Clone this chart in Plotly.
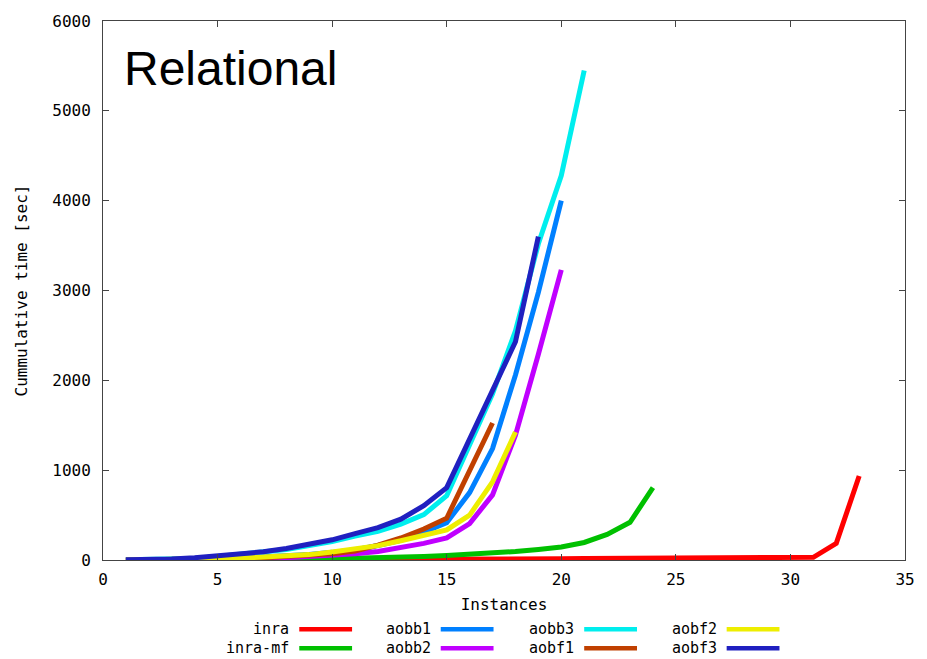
import plotly.graph_objects as go

# ---- data ----
names = ["inra", "inra-mf", "aobb1", "aobb2", "aobb3", "aobf1", "aobf2", "aobf3"]
colors = ["#FF0000", "#00C000", "#0080FF", "#C000FF", "#00EEEE", "#C04000", "#EEEE00", "#2020C0"]

inra = [1, 1, 1, 2, 2, 2, 3, 3, 4, 4, 5, 6, 7, 8, 9, 10, 11, 12, 13, 14,
        16, 17, 18, 19, 20, 21, 22, 24, 26, 28, 30, 185, 935]
inra_mf = [0, 0, 1, 2, 3, 5, 7, 9, 11, 14, 18, 23, 30, 40, 50, 62, 78, 95, 118, 145,
           195, 285, 420, 805]
aobb1 = [1, 2, 4, 8, 14, 22, 32, 45, 62, 85, 115, 162, 220, 310, 415, 750, 1240, 2060, 2980, 4000]
aobb2 = [0, 1, 2, 4, 7, 11, 17, 25, 36, 50, 70, 95, 135, 185, 245, 405, 725, 1390, 2290, 3230]
aobb3 = [2, 4, 8, 18, 38, 60, 85, 118, 160, 205, 265, 320, 400, 505, 715, 1270, 1850, 2550,
         3520, 4280, 5450]
aobf1 = [1, 2, 4, 7, 11, 17, 25, 36, 50, 70, 100, 165, 245, 345, 465, 1000, 1525]
aobf2 = [1, 2, 4, 8, 13, 20, 30, 42, 60, 90, 118, 160, 215, 270, 335, 500, 870, 1425]
aobf3 = [3, 5, 10, 25, 44, 66, 92, 129, 176, 225, 294, 360, 455, 605, 805, 1340, 1880, 2430, 3600]

series = [inra, inra_mf, aobb1, aobb2, aobb3, aobf1, aobf2, aobf3]

x_ticks = [0, 5, 10, 15, 20, 25, 30, 35]
y_ticks = [0, 1000, 2000, 3000, 4000, 5000, 6000]

MONO = "DejaVu Sans Mono"

fig = go.Figure()
for name, color, vals in zip(names, colors, series):
    fig.add_trace(go.Scatter(
        x=list(range(1, len(vals) + 1)), y=vals, mode="lines", name=name,
        line=dict(color=color, width=5), showlegend=False, hoverinfo="x+y+name"))

W, H = 927, 659
# plot area in window pixels: x 103..908, y 16..560
L, T = 103, 16
R = W - 908
B = H - 560
pw, ph = W - L - R, H - T - B


def px_x(X):
    """window pixel x -> paper coordinate"""
    return (X - L) / pw


def px_y(Y):
    """window pixel y -> paper coordinate"""
    return (H - B - Y) / ph


# custom gnuplot-style legend: text left, line sample right, column-major
col_right = [291, 433, 577, 720]
row_y = [630, 649]
annotations = []
shapes = []
for i, (name, color) in enumerate(zip(names, colors)):
    c, r = divmod(i, 2)
    xr = col_right[c]
    yy = row_y[r]
    annotations.append(dict(
        x=px_x(xr), y=px_y(yy), xref="paper", yref="paper", text=name,
        showarrow=False, xanchor="right", yanchor="middle", borderpad=0,
        font=dict(family=MONO, size=15, color="black")))
    shapes.append(dict(
        type="line", xref="paper", yref="paper",
        x0=px_x(xr + 9), x1=px_x(xr + 62), y0=px_y(yy), y1=px_y(yy),
        line=dict(color=color, width=4.5)))

annotations.append(dict(
    x=px_x(122), y=px_y(64), xref="paper", yref="paper", text="Relational",
    showarrow=False, xanchor="left", yanchor="middle",
    font=dict(family="Liberation Sans, Arial", size=48, color="black")))

axis_common = dict(
    showgrid=False, zeroline=False, showline=True, linecolor="#444444", linewidth=1,
    mirror="ticks", ticks="inside", ticklen=6, tickcolor="#444444",
    tickfont=dict(family=MONO, size=16, color="black"),
)

fig.update_layout(
    width=W, height=H,
    margin=dict(l=L, r=R, t=T, b=B),
    paper_bgcolor="white", plot_bgcolor="white",
    xaxis=dict(range=[0, 35], tickvals=x_ticks, ticktext=[str(v) for v in x_ticks],
               title=dict(text="Instances", font=dict(family=MONO, size=16, color="black"),
                          standoff=10),
               ticklabelstandoff=5, **axis_common),
    yaxis=dict(range=[0, 6000], tickvals=y_ticks, ticktext=[str(v) for v in y_ticks],
               title=dict(text="Cummulative time [sec]",
                          font=dict(family=MONO, size=16, color="black"), standoff=20),
               ticklabelstandoff=8, **axis_common),
    annotations=annotations,
    shapes=shapes,
)

# remove the browser's default 8px body margin so the figure fills the window
fig.write_html(
    "out.html",
    config={"displayModeBar": False},
    post_script="document.body.style.margin='0';document.body.style.overflow='hidden';",
)
